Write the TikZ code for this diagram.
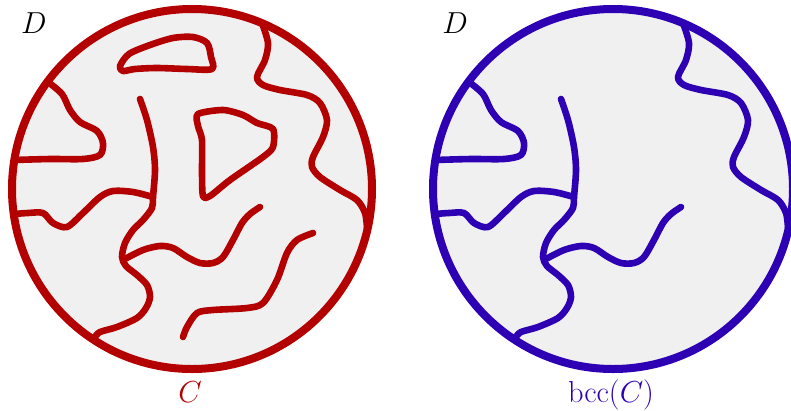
\documentclass[tikz,border=0pt]{standalone}
\usetikzlibrary{positioning}
\definecolor{cred}{HTML}{B30000}
\definecolor{cblue}{HTML}{2E00B3}
\definecolor{disc}{HTML}{F0F0F0}

% curves that reach the boundary (drawn in both discs)
\newcommand{\bdrycurves}{%
  \draw[curve] plot[smooth] coordinates {(48,82) (62,94) (70,110) (80,122) (97,131) (103,143) (100,155) (83,159) (50,159) (14,160)};
  \draw[curve] plot[smooth] coordinates {(140,99) (147,120) (153,147) (155,170) (153,197) (152,208) (143,220) (133,230) (125,243) (122,257) (126,266) (137,275) (147,285) (150,297) (146,308) (137,318) (117,327) (100,332) (95,337)};
  \draw[curve] plot[smooth] coordinates {(153,197) (133,192) (113,191) (100,197) (83,213) (67,227) (53,223) (43,213) (28,213) (14,214)};
  \draw[curve] plot[smooth] coordinates {(123,260) (143,250) (160,246) (173,248) (187,257) (200,263) (213,263) (223,257) (233,240) (242,223) (250,214) (260,207)};
  \draw[curve] plot[smooth] coordinates {(262,23) (268,43) (265,60) (257,77) (263,85) (280,90) (307,95) (320,103) (327,120) (323,137) (313,157) (312,167) (320,177) (340,190) (357,200) (365,213) (367,228)};
}

\begin{document}
\begin{tikzpicture}[x=0.02cm, y=-0.02cm,
  rim/.style={line width=8*0.02cm},
  curve/.style={line width=6.6*0.02cm, line cap=round, line join=round},
  lab/.style={font=\fontsize{19}{23}\selectfont, inner sep=0pt}]
\useasboundingbox (0,0) rectangle (791,410);
% ---------------- left disc: C
\begin{scope}[draw=cred]
\fill[disc] (192,189) circle[radius=180];
\bdrycurves
\draw[curve] plot[smooth cycle] coordinates {(120,66) (129,54) (150,45) (173,38) (193,37) (207,43) (211,57) (212,69) (187,69) (157,68) (135,69) (123,71)};
\draw[curve] plot[smooth cycle, tension=0.45] coordinates {(198,114) (223,110) (243,115) (257,123) (273,129) (273,147) (263,157) (230,180) (210,196) (203,196) (202,173) (202,140) (198,126)};
\draw[curve] plot[smooth] coordinates {(313,233) (297,240) (287,253) (277,280) (263,303) (247,308) (213,310) (197,313) (187,327) (183,337)};
\draw[rim] (192,189) circle[radius=180];
\end{scope}
\node[lab, anchor=base] (dl) at (34,33) {$D$};
\node[lab, anchor=base, text=cred] (cl) at (190,402) {$C$};
% ---------------- right disc: bcc(C)
\begin{scope}[draw=cblue, shift={(421,0)}]
\fill[disc] (192,189) circle[radius=180];
\bdrycurves
\draw[rim] (192,189) circle[radius=180];
\end{scope}
\node[lab, anchor=base] (dr) at (455,33) {$D$};
\node[lab, anchor=base, text=cblue] (cr) at (611,402) {$\mathrm{bcc}(C)$};
\end{tikzpicture}
\end{document}
